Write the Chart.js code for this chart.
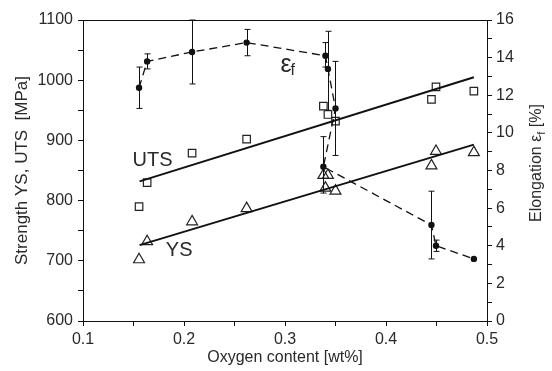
<!DOCTYPE html>
<html>
<head>
<meta charset="utf-8">
<script src="https://cdn.jsdelivr.net/npm/chart.js@4.4.0/dist/chart.umd.min.js"></script>
<style>
  html, body { margin: 0; padding: 0; background: #fff; }
</style>
</head>
<body>
<canvas id="myChart" width="552" height="371"></canvas>
<script>
// Strength vs. oxygen content (left axis, MPa)
const utsOxygen = [0.1555, 0.1635, 0.208, 0.262, 0.338, 0.3425, 0.350, 0.445, 0.4495, 0.487];
const utsValues = [790, 830, 879, 902, 957, 943, 932, 968, 989, 982];

const ysOxygen = [0.1555, 0.1635, 0.208, 0.262, 0.338, 0.3425, 0.340, 0.350, 0.445, 0.4495, 0.487];
const ysValues = [702, 732, 765, 787, 842, 842, 821, 816, 858, 882, 880];

// linear fit end points
const utsFitOxygen = [0.156, 0.487];
const utsFitValues = [832, 1005];
const ysFitOxygen = [0.156, 0.487];
const ysFitValues = [726, 893];

// elongation to fracture (right axis, %), in the order the dashed line joins them
const elongOxygen = [0.1555, 0.1635, 0.208, 0.262, 0.340, 0.3425, 0.350, 0.338, 0.445, 0.4495, 0.487];
const elongValues = [12.4, 13.8, 14.3, 14.8, 14.1, 13.4, 11.3, 8.2, 5.1, 4.0, 3.3];
const elongErrLow = [11.3, 13.4, 12.6, 14.1, 13.5, 11.2, 8.8, 6.8, 3.3, 3.7, null];
const elongErrHigh = [13.5, 14.2, 16.0, 15.5, 14.8, 15.4, 13.8, 9.8, 6.9, 4.3, null];

// labelled ticks
const xTickLabels = [0.1, 0.2, 0.3, 0.4, 0.5];
const strengthTickLabels = [600, 700, 800, 900, 1000, 1100];
const elongTickLabels = [0, 2, 4, 6, 8, 10, 12, 14, 16];

const FONT = "'Liberation Sans', Arial, sans-serif";
const INK = '#111';
const TEXT = '#2a2a2a';

function pts(xs, ys) {
    return xs.map((x, i) => ({ x: x, y: ys[i] }));
}

function hasLabel(list, v) {
    return list.some(t => Math.abs(t - v) < 1e-6);
}

// error bars, frame top edge, in-plot labels and the right axis title
const extras = {
    id: 'extras',
    afterDatasetsDraw(chart) {
        const ctx = chart.ctx;
        const xs = chart.scales.x;
        const ys = chart.scales.y;
        const y2 = chart.scales.y2;
        const area = chart.chartArea;

        ctx.save();
        ctx.strokeStyle = INK;
        ctx.lineWidth = 1;
        elongOxygen.forEach((o, i) => {
            if (elongErrLow[i] === null) return;
            const px = Math.round(xs.getPixelForValue(o)) + 0.5;
            const top = y2.getPixelForValue(elongErrHigh[i]);
            const bot = y2.getPixelForValue(elongErrLow[i]);
            ctx.beginPath();
            ctx.moveTo(px, top);
            ctx.lineTo(px, bot);
            ctx.moveTo(px - 3, top);
            ctx.lineTo(px + 3, top);
            ctx.moveTo(px - 3, bot);
            ctx.lineTo(px + 3, bot);
            ctx.stroke();
        });

        // top edge of the frame
        ctx.beginPath();
        ctx.moveTo(area.left, area.top + 0.5);
        ctx.lineTo(area.right, area.top + 0.5);
        ctx.stroke();

        ctx.fillStyle = TEXT;
        ctx.textBaseline = 'middle';
        ctx.textAlign = 'left';
        ctx.font = '20px ' + FONT;
        ctx.fillText('UTS', xs.getPixelForValue(0.149), ys.getPixelForValue(866));
        ctx.fillText('YS', xs.getPixelForValue(0.182), ys.getPixelForValue(717));

        const ex = xs.getPixelForValue(0.2955);
        const ey = y2.getPixelForValue(13.6);
        ctx.font = '25px ' + FONT;
        ctx.fillText('\u03b5', ex, ey);
        const ew = ctx.measureText('\u03b5').width;
        ctx.font = '16px ' + FONT;
        ctx.fillText('f', ex + ew - 1, ey + 5);

        // right axis title, read bottom to top, with subscript
        ctx.translate(537, 163);
        ctx.rotate(-Math.PI / 2);
        const partA = 'Elongation \u03b5';
        const partB = 'f';
        const partC = ' [%]';
        ctx.font = '16px ' + FONT;
        const wA = ctx.measureText(partA).width;
        const wC = ctx.measureText(partC).width;
        ctx.font = '11px ' + FONT;
        const wB = ctx.measureText(partB).width;
        let cx = -(wA + wB + wC) / 2;
        ctx.font = '16px ' + FONT;
        ctx.fillText(partA, cx, 0);
        cx += wA;
        ctx.font = '11px ' + FONT;
        ctx.fillText(partB, cx, 5);
        cx += wB;
        ctx.font = '16px ' + FONT;
        ctx.fillText(partC, cx, 0);
        ctx.restore();
    }
};

const ctx = document.getElementById('myChart').getContext('2d');
new Chart(ctx, {
    type: 'scatter',
    data: {
        datasets: [
            {
                label: 'UTS fit',
                data: pts(utsFitOxygen, utsFitValues),
                showLine: true,
                borderColor: INK,
                borderWidth: 2,
                pointRadius: 0,
                yAxisID: 'y'
            },
            {
                label: 'YS fit',
                data: pts(ysFitOxygen, ysFitValues),
                showLine: true,
                borderColor: INK,
                borderWidth: 2,
                pointRadius: 0,
                yAxisID: 'y'
            },
            {
                label: 'UTS',
                data: pts(utsOxygen, utsValues),
                pointStyle: 'rect',
                pointRadius: 5.3,
                pointBorderWidth: 1.2,
                pointBorderColor: '#222',
                pointBackgroundColor: 'rgba(255,255,255,0)',
                yAxisID: 'y'
            },
            {
                label: 'YS',
                data: pts(ysOxygen, ysValues),
                pointStyle: 'triangle',
                pointRadius: 6.3,
                pointBorderWidth: 1.2,
                pointBorderColor: '#222',
                pointBackgroundColor: 'rgba(255,255,255,0)',
                yAxisID: 'y'
            },
            {
                label: 'Elongation',
                data: pts(elongOxygen, elongValues),
                showLine: true,
                borderColor: INK,
                borderWidth: 1.3,
                borderDash: [8, 5],
                pointStyle: 'circle',
                pointRadius: 3.2,
                pointBorderWidth: 0,
                pointBackgroundColor: INK,
                yAxisID: 'y2'
            }
        ]
    },
    options: {
        responsive: false,
        animation: false,
        devicePixelRatio: 1,
        layout: { padding: { top: 20, left: 0, right: 0, bottom: 0 } },
        plugins: {
            legend: { display: false },
            tooltip: { enabled: false }
        },
        scales: {
            x: {
                type: 'linear',
                min: 0.1,
                max: 0.5,
                afterFit: s => { s.height = 50; },
                ticks: {
                    stepSize: 0.05,
                    autoSkip: false,
                    maxRotation: 0,
                    padding: 4,
                    color: TEXT,
                    font: { family: FONT, size: 16 },
                    callback: v => hasLabel(xTickLabels, v) ? v.toFixed(1) : ''
                },
                grid: { drawOnChartArea: false, tickLength: 5, color: INK },
                border: { color: INK, width: 1 },
                title: {
                    display: true,
                    text: 'Oxygen content [wt%]',
                    color: TEXT,
                    font: { family: FONT, size: 16 },
                    padding: { top: 0, bottom: 4 }
                }
            },
            y: {
                position: 'left',
                min: 600,
                max: 1100,
                afterFit: s => { s.width = 83; },
                ticks: {
                    stepSize: 50,
                    autoSkip: false,
                    padding: 5,
                    color: TEXT,
                    font: { family: FONT, size: 16 },
                    callback: v => hasLabel(strengthTickLabels, v) ? String(v) : ''
                },
                grid: { drawOnChartArea: false, tickLength: 5, color: INK },
                border: { color: INK, width: 1 },
                title: {
                    display: true,
                    text: 'Strength YS, UTS  [MPa]',
                    color: TEXT,
                    font: { family: FONT, size: 17 },
                    padding: { top: 12, bottom: 0 }
                }
            },
            y2: {
                position: 'right',
                min: 0,
                max: 16,
                afterFit: s => { s.width = 65; },
                ticks: {
                    stepSize: 1,
                    autoSkip: false,
                    padding: 4,
                    color: TEXT,
                    font: { family: FONT, size: 16 },
                    callback: v => hasLabel(elongTickLabels, v) ? String(v) : ''
                },
                grid: { drawOnChartArea: false, tickLength: 5, color: INK },
                border: { color: INK, width: 1 }
            }
        }
    },
    plugins: [extras]
});
</script>
</body>
</html>
